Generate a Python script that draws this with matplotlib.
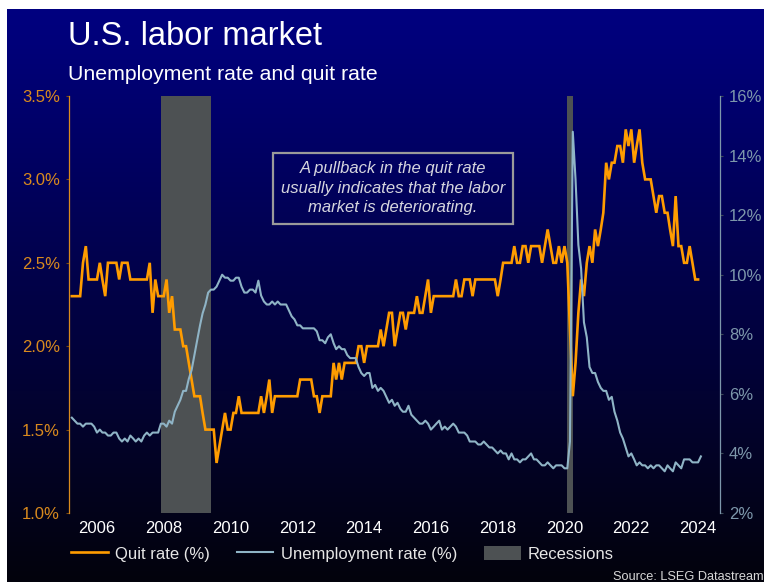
import matplotlib
matplotlib.use("Agg")
import matplotlib.pyplot as plt
import matplotlib.dates as mdates
from matplotlib import font_manager as fm
from matplotlib.lines import Line2D
from matplotlib.patches import Patch
import numpy as np
import pandas as pd

# monthly data, starting April 2005
quit_rate = [
    2.3, 2.3, 2.3, 2.3, 2.5, 2.6, 2.4, 2.4, 2.4,
    2.4, 2.5, 2.4, 2.3, 2.5, 2.5, 2.5, 2.5, 2.4, 2.5, 2.5, 2.5,
    2.4, 2.4, 2.4, 2.4, 2.4, 2.4, 2.4, 2.5, 2.2, 2.4, 2.3, 2.3,
    2.3, 2.4, 2.2, 2.3, 2.1, 2.1, 2.1, 2.0, 2.0, 1.9, 1.8, 1.7,
    1.7, 1.7, 1.6, 1.5, 1.5, 1.5, 1.5, 1.3, 1.4, 1.5, 1.6, 1.5,
    1.5, 1.6, 1.6, 1.7, 1.6, 1.6, 1.6, 1.6, 1.6, 1.6, 1.6, 1.7,
    1.6, 1.7, 1.8, 1.6, 1.7, 1.7, 1.7, 1.7, 1.7, 1.7, 1.7, 1.7,
    1.7, 1.8, 1.8, 1.8, 1.8, 1.8, 1.7, 1.7, 1.6, 1.7, 1.7, 1.7,
    1.7, 1.9, 1.8, 1.9, 1.8, 1.9, 1.9, 1.9, 1.9, 1.9, 2.0, 2.0,
    1.9, 2.0, 2.0, 2.0, 2.0, 2.0, 2.1, 2.0, 2.1, 2.2, 2.2, 2.0,
    2.1, 2.2, 2.2, 2.1, 2.2, 2.2, 2.2, 2.3, 2.2, 2.2, 2.3, 2.4,
    2.2, 2.3, 2.3, 2.3, 2.3, 2.3, 2.3, 2.3, 2.3, 2.4, 2.3, 2.3,
    2.4, 2.4, 2.4, 2.3, 2.4, 2.4, 2.4, 2.4, 2.4, 2.4, 2.4, 2.4,
    2.3, 2.4, 2.5, 2.5, 2.5, 2.5, 2.6, 2.5, 2.5, 2.6, 2.6, 2.5,
    2.6, 2.6, 2.6, 2.6, 2.5, 2.6, 2.7, 2.6, 2.5, 2.5, 2.6, 2.5,
    2.6, 2.5, 2.1, 1.7, 1.9, 2.2, 2.4, 2.3, 2.5, 2.6, 2.5, 2.7,
    2.6, 2.7, 2.8, 3.1, 3.0, 3.1, 3.1, 3.2, 3.2, 3.1, 3.3, 3.2,
    3.3, 3.1, 3.2, 3.3, 3.1, 3.0, 3.0, 3.0, 2.9, 2.8, 2.9, 2.9,
    2.8, 2.8, 2.7, 2.6, 2.9, 2.6, 2.6, 2.5, 2.5, 2.6, 2.5, 2.4,
    2.4,
]

unemployment = [
    5.2, 5.1, 5.0, 5.0, 4.9, 5.0, 5.0, 5.0, 4.9,
    4.7, 4.8, 4.7, 4.7, 4.6, 4.6, 4.7, 4.7, 4.5, 4.4, 4.5, 4.4,
    4.6, 4.5, 4.4, 4.5, 4.4, 4.6, 4.7, 4.6, 4.7, 4.7, 4.7, 5.0,
    5.0, 4.9, 5.1, 5.0, 5.4, 5.6, 5.8, 6.1, 6.1, 6.5, 6.8, 7.3,
    7.8, 8.3, 8.7, 9.0, 9.4, 9.5, 9.5, 9.6, 9.8, 10.0, 9.9, 9.9,
    9.8, 9.8, 9.9, 9.9, 9.6, 9.4, 9.4, 9.5, 9.5, 9.4, 9.8, 9.3,
    9.1, 9.0, 9.0, 9.1, 9.0, 9.1, 9.0, 9.0, 9.0, 8.8, 8.6, 8.5,
    8.3, 8.3, 8.2, 8.2, 8.2, 8.2, 8.2, 8.1, 7.8, 7.8, 7.7, 7.9,
    8.0, 7.7, 7.5, 7.6, 7.5, 7.5, 7.3, 7.2, 7.2, 7.2, 6.9, 6.7,
    6.6, 6.7, 6.7, 6.2, 6.3, 6.1, 6.2, 6.1, 5.9, 5.7, 5.8, 5.6,
    5.7, 5.5, 5.4, 5.4, 5.6, 5.3, 5.2, 5.1, 5.0, 5.0, 5.1, 5.0,
    4.8, 4.9, 5.0, 5.1, 4.8, 4.9, 4.8, 4.9, 5.0, 4.9, 4.7, 4.7,
    4.7, 4.6, 4.4, 4.4, 4.4, 4.3, 4.3, 4.4, 4.3, 4.2, 4.2, 4.1,
    4.0, 4.1, 4.0, 4.0, 3.8, 4.0, 3.8, 3.8, 3.7, 3.8, 3.8, 3.9,
    4.0, 3.8, 3.8, 3.7, 3.6, 3.6, 3.7, 3.6, 3.5, 3.6, 3.6, 3.6,
    3.5, 3.5, 4.4, 14.8, 13.2, 11.0, 10.2, 8.4, 7.9, 6.9, 6.7, 6.7,
    6.4, 6.2, 6.1, 6.1, 5.8, 5.9, 5.4, 5.1, 4.7, 4.5, 4.2, 3.9,
    4.0, 3.8, 3.6, 3.7, 3.6, 3.6, 3.5, 3.6, 3.5, 3.6, 3.6, 3.5,
    3.4, 3.6, 3.5, 3.4, 3.7, 3.6, 3.5, 3.8, 3.8, 3.8, 3.7, 3.7,
    3.7, 3.9,
]

recessions = [("2007-12-01", "2009-06-01"), ("2020-02-01", "2020-04-01")]
year_ticks = list(range(2006, 2025, 2))
quit_ticks = [1.0, 1.5, 2.0, 2.5, 3.0, 3.5]
unemp_ticks = [2, 4, 6, 8, 10, 12, 14, 16]

quit_dates = pd.date_range("2005-04-01", periods=len(quit_rate), freq="MS")
unemp_dates = pd.date_range("2005-04-01", periods=len(unemployment), freq="MS")

fonts = {f.name for f in fm.fontManager.ttflist}
narrow = "Liberation Sans Narrow" if "Liberation Sans Narrow" in fonts else "Liberation Sans"
plt.rcParams["font.family"] = ["Liberation Sans", "DejaVu Sans"]

ORANGE = "#ff9c00"
ORANGE_TXT = "#d98a1e"
BLUE = "#8fb4c6"
BLUE_TXT = "#7d97ab"
GREY = "#4d5153"

W, H = 764, 582
fig = plt.figure(figsize=(W / 100, H / 100), dpi=100, facecolor="white")

# navy-to-black background
bg = fig.add_axes([7 / W, 0, 1 - 7 / W, 1 - 9 / H], zorder=-10)
top = np.array([0, 0, 128]) / 255
bot = np.array([3, 3, 12]) / 255
t = np.linspace(0, 1, 256)[:, None]
grad = (top * (1 - t) + bot * t)[:, None, :]
bg.imshow(grad, aspect="auto", extent=[0, 1, 0, 1])
bg.axis("off")

ax = fig.add_axes([69 / W, 1 - 513 / H, (720 - 69) / W, (513 - 96) / H])
ax.patch.set_alpha(0)
ax2 = ax.twinx()
ax2.patch.set_alpha(0)

for start, end in recessions:
    ax.axvspan(pd.Timestamp(start), pd.Timestamp(end), color=GREY, lw=0, zorder=1)

ax.plot(quit_dates, quit_rate, color=ORANGE, lw=1.9, zorder=3, solid_joinstyle="miter")
ax2.plot(unemp_dates, unemployment, color=BLUE, lw=1.5, zorder=3)

ax.set_xlim(pd.Timestamp("2005-03-01"), pd.Timestamp("2024-08-28"))
ax.set_ylim(1.0, 3.5)
ax2.set_ylim(2, 16)

ax.set_xticks([pd.Timestamp(f"{y}-01-01") for y in year_ticks])
ax.xaxis.set_major_formatter(mdates.DateFormatter("%Y"))
ax.tick_params(axis="x", length=0, pad=6, labelcolor="white", labelsize=12)
for lab in ax.get_xticklabels():
    lab.set_family([narrow, "DejaVu Sans"])

ax.set_yticks(quit_ticks)
ax.set_yticklabels([f"{v:.1f}%" for v in quit_ticks])
ax.tick_params(axis="y", length=2.5, width=0.8, color="#7a4a10", pad=4,
               labelcolor=ORANGE_TXT, labelsize=12)
ax2.set_yticks(unemp_ticks)
ax2.set_yticklabels([f"{v}%" for v in unemp_ticks])
ax2.tick_params(axis="y", length=2.5, width=0.8, color="#3a4a58", pad=4,
                labelcolor=BLUE_TXT, labelsize=12)

for a in (ax, ax2):
    for side in ("top", "bottom"):
        a.spines[side].set_visible(False)
ax.spines["right"].set_visible(False)
ax2.spines["left"].set_visible(False)
ax.spines["left"].set_color(ORANGE_TXT)
ax.spines["left"].set_linewidth(0.9)
ax2.spines["right"].set_color(BLUE_TXT)
ax2.spines["right"].set_linewidth(0.9)

ax.text(0.4977, 0.779,
        "A pullback in the quit rate\nusually indicates that the labor\nmarket is deteriorating.",
        transform=ax.transAxes, ha="center", va="center", ma="center",
        fontsize=12, style="italic", color="#d6d6de", linespacing=1.38, zorder=5,
        bbox=dict(boxstyle="square,pad=0.5", fc="none", ec="#9a9a9a", lw=1.6))

fig.text(68 / W, 1 - 45 / H, "U.S. labor market", fontsize=23.5, color="white", va="baseline")
fig.text(68 / W, 1 - 80 / H, "Unemployment rate and quit rate", fontsize=15.3, color="white",
         va="baseline")
fig.text(1.0, 1 - 580 / H, "Source: LSEG Datastream", fontsize=9.2, color="#d8d8d8",
         ha="right", va="baseline", family=[narrow, "DejaVu Sans"])

handles = [
    Line2D([], [], color=ORANGE, lw=1.9),
    Line2D([], [], color=BLUE, lw=1.5),
    Patch(facecolor=GREY, edgecolor="none"),
]
labels = ["Quit rate (%)", "Unemployment rate (%)", "Recessions"]
leg = fig.legend(handles, labels, loc="center left", bbox_to_anchor=(71 / W, 1 - 554 / H),
                 ncol=3, frameon=False, handlelength=2.2, handleheight=0.9,
                 handletextpad=0.45, columnspacing=1.6, borderpad=0, borderaxespad=0,
                 prop={"family": [narrow, "DejaVu Sans"], "size": 12})
for txt in leg.get_texts():
    txt.set_color("#e6e6e6")

fig.savefig("out.png", dpi=100, facecolor="white")
